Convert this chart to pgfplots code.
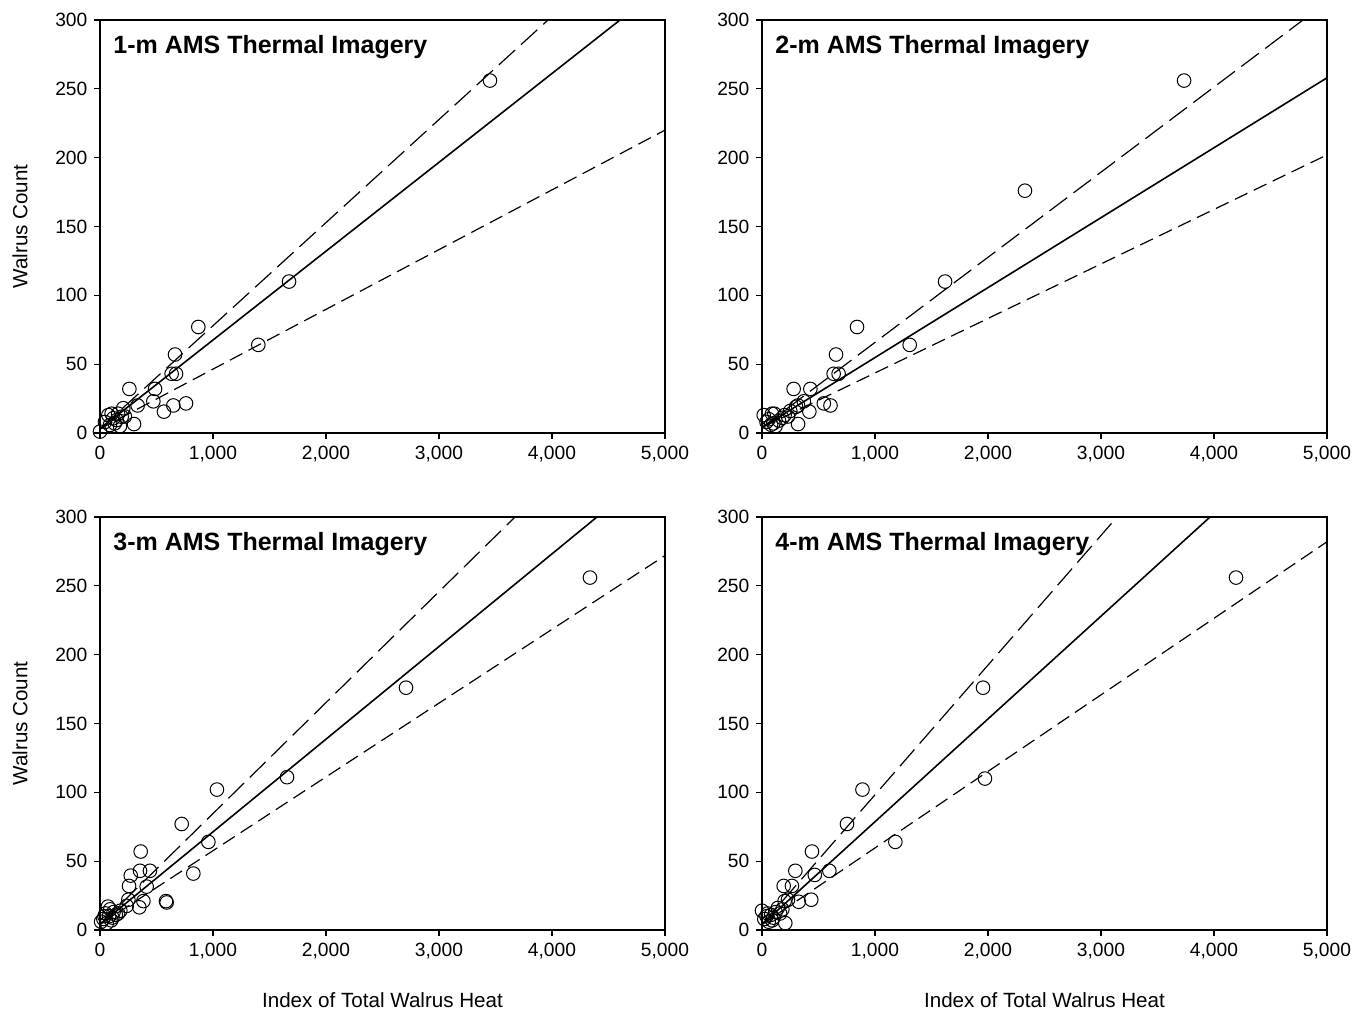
\documentclass[border=0pt]{standalone}
\usepackage{pgfplots}
\pgfplotsset{compat=1.18}
\usepackage{fontspec}
\setmainfont{Liberation Sans}
\tikzset{ttl/.style={anchor=west, inner sep=0pt, font=\fontsize{12.5}{14}\selectfont\bfseries}}
\begin{document}
\begin{tikzpicture}
\pgfplotsset{
  walrus/.style={
    scale only axis, width=282.5pt, height=206.5pt,
    xmin=0, xmax=5000, ymin=0, ymax=300,
    xtick={0,1000,2000,3000,4000,5000},
    ytick={0,50,100,150,200,250,300},
    tick align=outside, tick pos=left,
    major tick length=2.8pt,
    scaled x ticks=false,
    /pgf/number format/1000 sep={,},
    /pgf/number format/assume math mode=true,
    tick label style={font=\fontsize{9.6}{11}\selectfont},
    label style={font=\fontsize{10.3}{12}\selectfont},
    axis line style={line width=0.6pt},
    every tick/.style={line width=0.6pt, black},
    clip mode=individual,
    xlabel style={at={(axis description cs:0.5,-0.1695)}, anchor=center},
    ylabel style={at={(axis description cs:-0.1416,0.5)}, anchor=center},
  },
  fit/.style={black, line width=0.8pt, no marks},
  up/.style={black, line width=0.6pt, no marks, dash pattern=on 11pt off 4pt},
  lo/.style={black, line width=0.6pt, no marks, dash pattern=on 7pt off 3.5pt},
  pts/.style={only marks, mark=o, mark size=3.4pt, black, mark options={line width=0.5pt}},
}
\useasboundingbox (0pt,0pt) rectangle (678pt,505.5pt);

% panel 1
\begin{axis}[walrus, at={(50pt,289pt)}, anchor=south west, ylabel={Walrus Count}]
\addplot[up] coordinates {(0,3) (3965,300)};
\addplot[lo] coordinates {(0,3) (5000,220)};
\addplot[fit] coordinates {(0,3) (4602,300)};
\addplot[pts] coordinates {
(0,1) (260,32) (487,32) (664,57) (634,43) (673,43) (870,77) (1401,64)
(472,23) (566,15.5) (649,20) (761,21.5) (333,20) (301,6.5) (206,18)
(1673,110) (3451,256)
(74,13) (103,14) (118,10.7) (148,9.4) (192,11.8) (177,5) (88,5.8) (44,8)
(130,7) (160,14) (220,12)};
\node[ttl] at (axis description cs:0.023,0.9346) {1-m AMS Thermal Imagery};
\end{axis}

% panel 2
\begin{axis}[walrus, at={(381pt,289pt)}, anchor=south west]
\addplot[up] coordinates {(0,4) (4788,300)};
\addplot[lo] coordinates {(0,4) (5000,202)};
\addplot[fit] coordinates {(0,4) (5000,258)};
\addplot[pts] coordinates {
(841,77) (1307,64) (655,57) (634,43) (678,43) (280,32) (428,32)
(319,20) (301,19) (419,15.5) (547,21.5) (606,20) (319,6.5) (15,13) (89,14)
(370,23) (1620,110) (2327,176) (3735,256)
(40,8) (60,10) (100,7) (120,5) (150,9) (180,11) (200,13) (230,12) (250,16) (110,14) (80,6)};
\node[ttl] at (axis description cs:0.023,0.9346) {2-m AMS Thermal Imagery};
\end{axis}

% panel 3
\begin{axis}[walrus, at={(50pt,40.5pt)}, anchor=south west, ylabel={Walrus Count}, xlabel={Index of Total Walrus Heat}]
\addplot[up] coordinates {(0,4) (3673,300)};
\addplot[lo] coordinates {(0,4) (5000,272)};
\addplot[fit] coordinates {(0,4) (4398,300)};
\addplot[pts] coordinates {
(723,77) (959,64) (360,57) (354,43) (442,43) (272,39.5) (826,41) (413,31.5)
(257,32) (584,21) (590,20) (384,21) (348,16.5) (251,22) (236,17.5)
(1035,102) (1655,111) (2708,176) (4336,256)
(10,6) (30,8) (50,12) (60,5) (80,10) (90,15) (100,7) (120,13) (140,11)
(160,12) (180,14) (40,10) (70,17) (110,9)};
\node[ttl] at (axis description cs:0.023,0.9346) {3-m AMS Thermal Imagery};
\end{axis}

% panel 4
\begin{axis}[walrus, at={(381pt,40.5pt)}, anchor=south west, xlabel={Index of Total Walrus Heat}]
\addplot[up] coordinates {(0,4) (3142,300)};
\addplot[lo] coordinates {(0,4) (5000,282)};
\addplot[fit] coordinates {(0,4) (3965,300)};
\addplot[pts] coordinates {
(752,77) (1180,64) (442,57) (295,43) (467,40) (596,43) (192,32) (265,32)
(325,20.5) (436,22) (200,21) (230,22) (206,5)
(889,102) (1973,110) (1956,176) (4195,256)
(0,14) (20,8) (40,10) (60,6) (80,11) (100,9) (120,13) (140,16) (160,12)
(180,15) (50,12) (90,7)};
\node[ttl] at (axis description cs:0.023,0.9346) {4-m AMS Thermal Imagery};
\end{axis}
\end{tikzpicture}
\end{document}
